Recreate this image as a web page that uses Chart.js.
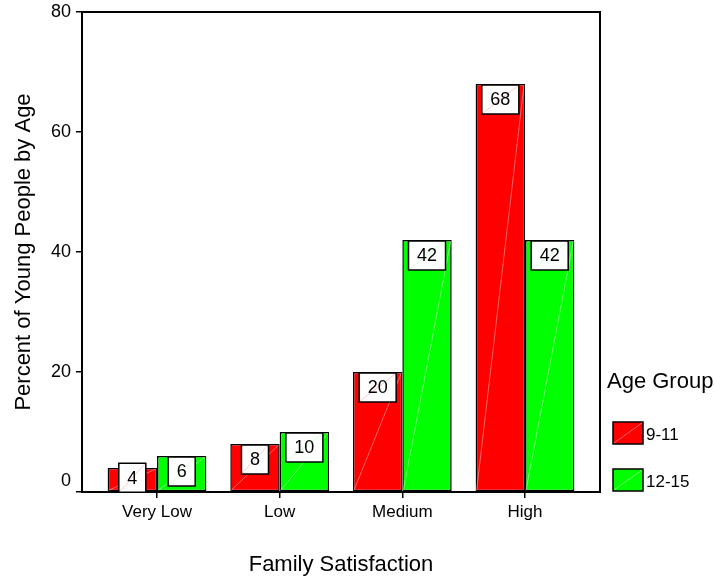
<!DOCTYPE html>
<html>
<head>
<meta charset="utf-8">
<script src="https://cdn.jsdelivr.net/npm/chart.js@4/dist/chart.umd.min.js"></script>
<style>
  html, body { margin: 0; padding: 0; background: #fff; }
  #wrap { width: 714px; height: 577px; }
</style>
</head>
<body>
<div id="wrap"><canvas id="c" width="714" height="577"></canvas></div>
<script>
// Family satisfaction by age group (percent of young people)
const categories = ['Very Low', 'Low', 'Medium', 'High'];
const ageGroups = ['9-11', '12-15'];
const pct9to11 = [4, 8, 20, 68];
const pct12to15 = [6, 10, 42, 42];
const yTickValues = [0, 20, 40, 60, 80];
const groupColors = ['#ff0000', '#00ff00'];
const streakColors = ['#ffa8a8', '#b8ffb8'];

const FONT = '"Liberation Sans", Arial, Helvetica, sans-serif';
Chart.defaults.font.family = FONT;
Chart.defaults.color = '#000';

const series = [pct9to11, pct12to15];
const datasets = ageGroups.map((g, k) => ({
  label: g,
  data: categories.map((c, i) => ({ x: i, y: series[k][i] })),
  backgroundColor: groupColors[k],
  borderColor: '#000',
  borderWidth: 1.5,
  borderSkipped: false,
  categoryPercentage: 0.805,
  barPercentage: 1.0
}));

function streak(ctx, color, x1, y1, x2, y2) {
  ctx.save();
  ctx.strokeStyle = color;
  ctx.lineWidth = 0.6;
  ctx.beginPath();
  ctx.moveTo(x1, y1);
  ctx.lineTo(x2, y2);
  ctx.stroke();
  ctx.restore();
}

// black frame around the plot area
const framePlugin = {
  id: 'frame',
  afterDatasetsDraw(chart) {
    const { ctx, chartArea: a } = chart;
    ctx.save();
    ctx.strokeStyle = '#000';
    ctx.lineWidth = 2;
    ctx.strokeRect(a.left, a.top, a.right - a.left, a.bottom - a.top);
    ctx.restore();
  }
};

// boxed value labels just inside the top of each bar
const valueBoxPlugin = {
  id: 'valueBoxes',
  afterDraw(chart) {
    const { ctx } = chart;
    ctx.save();
    ctx.font = '18px ' + FONT;
    ctx.textAlign = 'center';
    ctx.textBaseline = 'middle';
    chart.data.datasets.forEach((ds, di) => {
      const meta = chart.getDatasetMeta(di);
      meta.data.forEach((el, i) => {
        const half = el.width / 2;
        // thin light streak across each bar, corner to corner
        streak(ctx, streakColors[di], el.x - half + 1, el.base - 1, el.x + half - 1, el.y + 1);
        const txt = String(ds.data[i].y);
        const w = ctx.measureText(txt).width + 17;
        const h = 29;
        let top = el.y + 1;
        if (top + h > el.base + 1) top = el.base + 1 - h;
        const left = el.x - w / 2;
        ctx.fillStyle = '#fff';
        ctx.fillRect(left, top, w, h);
        streak(ctx, streakColors[di], left + 1, top + h - 1, left + w - 1, top + 1);
        ctx.strokeStyle = '#000';
        ctx.lineWidth = 1.5;
        ctx.strokeRect(left, top, w, h);
        ctx.fillStyle = '#000';
        ctx.fillText(txt, el.x, top + h / 2 + 1);
      });
    });
    ctx.restore();
  }
};

// legend to the right of the plot
const sideLegendPlugin = {
  id: 'sideLegend',
  afterDraw(chart) {
    const { ctx, chartArea: a } = chart;
    const x0 = a.right;
    const b = a.bottom;
    ctx.save();
    ctx.fillStyle = '#000';
    ctx.textAlign = 'left';
    ctx.textBaseline = 'middle';
    ctx.font = '22px ' + FONT;
    ctx.fillText('Age Group', x0 + 7, b - 110);
    ctx.font = '17px ' + FONT;
    chart.data.datasets.forEach((ds, k) => {
      const top = b - 70 + k * 47;
      ctx.fillStyle = ds.backgroundColor;
      ctx.fillRect(x0 + 13, top, 30, 22);
      streak(ctx, streakColors[k], x0 + 14, top + 21, x0 + 42, top + 1);
      ctx.strokeStyle = '#000';
      ctx.lineWidth = 1.5;
      ctx.strokeRect(x0 + 13, top, 30, 22);
      ctx.fillStyle = '#000';
      ctx.fillText(ds.label, x0 + 46, top + 13);
    });
    ctx.restore();
  }
};

const spacing = 122.667;
new Chart(document.getElementById('c'), {
  type: 'bar',
  data: { datasets },
  options: {
    responsive: false,
    devicePixelRatio: 1,
    animation: false,
    layout: { padding: { top: 12, right: 114, bottom: 0, left: 0 } },
    plugins: { legend: { display: false }, tooltip: { enabled: false } },
    scales: {
      x: {
        type: 'linear',
        min: -75 / spacing,
        max: 3 + 75 / spacing,
        offset: false,
        afterBuildTicks(s) {
          s.ticks = categories.map((c, i) => ({ value: i }));
        },
        afterFit(s) { s.height = 85; s.paddingLeft = 0; s.paddingRight = 0; },
        ticks: {
          font: { size: 17 },
          color: '#000',
          padding: 4,
          autoSkip: false,
          maxRotation: 0,
          callback: v => categories[v]
        },
        grid: { offset: false, drawOnChartArea: false, drawTicks: true, tickLength: 6, color: '#000', lineWidth: 1.5 },
        border: { display: false },
        title: { display: true, text: 'Family Satisfaction', font: { size: 22 }, color: '#000', padding: { top: 4, bottom: -1 } }
      },
      y: {
        min: 0,
        max: 80,
        afterBuildTicks(s) {
          s.ticks = yTickValues.map(v => ({ value: v }));
        },
        afterFit(s) { s.width = 82; s.paddingTop = 0; s.paddingBottom = 0; },
        ticks: {
          font: { size: 18 },
          color: '#000',
          padding: 5,
          // the zero label sits just above the base line
          callback: v => (v === 0 ? ['0', ''] : String(v))
        },
        grid: { drawOnChartArea: false, drawTicks: true, tickLength: 6, color: '#000', lineWidth: 1.5 },
        border: { display: false },
        title: { display: true, text: 'Percent of Young People by Age', font: { size: 22 }, color: '#000', padding: { top: 11, bottom: 0 } }
      }
    }
  },
  plugins: [framePlugin, valueBoxPlugin, sideLegendPlugin]
});
</script>
</body>
</html>
